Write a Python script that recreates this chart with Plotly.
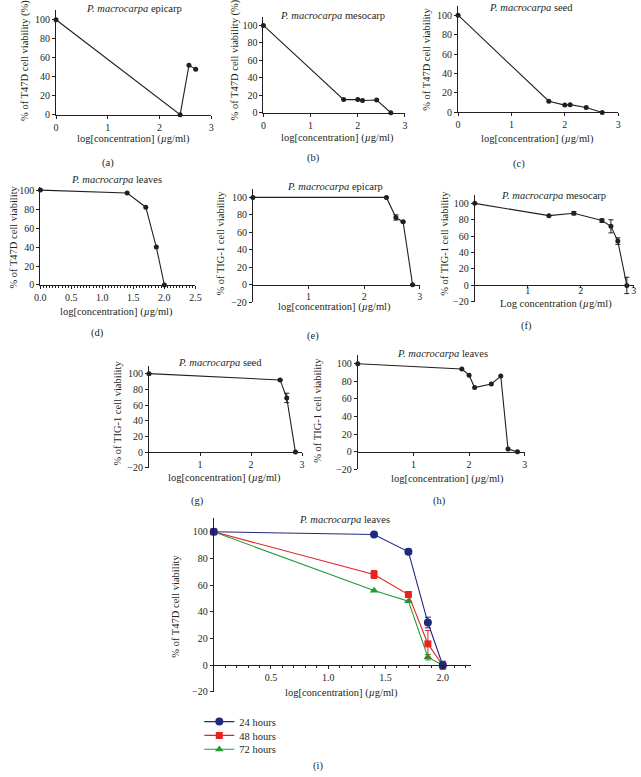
import plotly.graph_objects as go

W, H = 641, 777
FONT = "Liberation Serif"
INK = "#231f20"
NAVY = "#1f2a7c"
RED = "#e8221e"
GREEN = "#239b32"

# ---------------- data ----------------
a_x = [0, 2.4, 2.57, 2.7]
a_y = [100, 0, 52, 48]

b_x = [0, 1.7, 2.0, 2.1, 2.4, 2.7]
b_y = [100, 15, 15, 14, 14.5, 0]

c_x = [0, 1.7, 2.0, 2.1, 2.4, 2.7]
c_y = [100, 11.5, 7.5, 8, 5, 0]

d_x = [0, 1.4, 1.7, 1.87, 2.0]
d_y = [100, 97, 82, 40, 0]

e_x = [0, 2.4, 2.57, 2.7, 2.87]
e_y = [100, 100, 77, 72, 0]
e_err = [0, 0, 3, 0, 0]

f_x = [0, 1.4, 1.87, 2.4, 2.57, 2.7, 2.87]
f_y = [100, 85, 88, 79, 72, 54, 0]
f_err = [0, 0, 2, 2, 8, 4, 10]

g_x = [0, 2.57, 2.7, 2.87]
g_y = [100, 92, 69, 0]
g_err = [0, 0, 6, 0]

h_x = [0, 1.87, 2.0, 2.1, 2.4, 2.57, 2.7, 2.87]
h_y = [100, 94, 87, 73, 77, 86, 3, 0]

i_x = [0, 1.4, 1.7, 1.87, 2.0]
i_24 = [100, 98, 85, 32, 0]
i_24_err = [0, 0, 2, 4, 3]
i_48 = [100, 68, 53, 16, 0]
i_48_err = [0, 3, 0, 10, 0]
i_72 = [100, 56, 48, 6, 0]
i_72_err = [0, 0, 0, 2, 0]

T47D_PCT = "% of T47D cell viability (%)"
T47D = "% of T47D cell viability"
TIG = "% of TIG-1 cell viability"
XLAB = "log[concentration] (<i>µ</i>g/ml)"
XLAB_F = "Log concentration (<i>µ</i>g/ml)"

# ---------------- panel geometry (pixels) ----------------
panels = [
    dict(n=1, x0=51.0, xs=52.7, y0=113.0, ys=0.96, xr=[0, 3], yr=[0, 110],
         xt=[0, 1, 2, 3], fmt="", free=False, minor=None, so=0, tl=3,
         title="<i>P. macrocarpa</i> epicarp", tpos=(130, 6),
         ylab=T47D_PCT, ypos=(20, 58), xlab=XLAB, xpos=(130, 137.5), lab="(a)", lpos=(104, 162)),
    dict(n=2, x0=262.3, xs=48.1, y0=111.0, ys=0.883, xr=[0, 3], yr=[0, 110],
         xt=[0, 1, 2, 3], fmt="", free=False, minor=None, so=0, tl=3,
         title="<i>P. macrocarpa</i> mesocarp", tpos=(333, 12.5),
         ylab=T47D_PCT, ypos=(233.5, 58), xlab=XLAB, xpos=(338, 136.5), lab="(b)", lpos=(313, 157)),
    dict(n=3, x0=460.7, xs=54.4, y0=110.7, ys=0.984, xr=[0, 3], yr=[0, 109],
         xt=[0, 1, 2, 3], fmt="", free=False, minor=None, so=0, tl=3,
         title="<i>P. macrocarpa</i> seed", tpos=(535, 4.5),
         ylab=T47D, ypos=(428.5, 57), xlab=XLAB, xpos=(542, 137.5), lab="(c)", lpos=(523, 163)),
    dict(n=4, x0=35.0, xs=63.2, y0=285.3, ys=0.96, xr=[0, 2.5], yr=[0, 103],
         xt=[0, 0.5, 1.0, 1.5, 2.0, 2.5], fmt=".1f", free=False, minor=0.05, so=0, tl=3,
         title="<i>P. macrocarpa</i> leaves", tpos=(113, 179),
         ylab=T47D, ypos=(7.5, 237), xlab=XLAB, xpos=(113, 312.5), lab="(d)", lpos=(93, 334)),
    dict(n=5, x0=251.6, xs=56.7, y0=285.0, ys=0.883, xr=[0, 3], yr=[-20, 110],
         xt=[1, 2, 3], fmt="", free=True, minor=None, so=-1, tl=3,
         title="<i>P. macrocarpa</i> epicarp", tpos=(335, 186),
         ylab=TIG, ypos=(218.5, 243), xlab=XLAB, xpos=(335, 308), lab="(e)", lpos=(313, 336.5)),
    dict(n=6, x0=477.7, xs=54.0, y0=285.7, ys=0.83, xr=[0, 3], yr=[-20, 110],
         xt=[1, 2, 3], fmt="", free=True, minor=None, so=-6, tl=2,
         title="<i>P. macrocarpa</i> mesocarp", tpos=(558, 195),
         ylab=TIG, ypos=(447, 243), xlab=XLAB_F, xpos=(560, 304.5), lab="(f)", lpos=(530, 326.5)),
    dict(n=7, x0=145.7, xs=52.0, y0=454.3, ys=0.793, xr=[0, 3], yr=[-20, 110],
         xt=[1, 2, 3], fmt="", free=True, minor=None, so=0, tl=3,
         title="<i>P. macrocarpa</i> seed", tpos=(218, 364),
         ylab=TIG, ypos=(113.5, 415), xlab=XLAB, xpos=(223, 481), lab="(g)", lpos=(195, 504)),
    dict(n=8, x0=358.5, xs=56.7, y0=454.0, ys=0.89, xr=[0, 3], yr=[-20, 110],
         xt=[1, 2, 3], fmt="", free=True, minor=None, so=0, tl=3,
         title="<i>P. macrocarpa</i> leaves", tpos=(445, 355),
         ylab=TIG, ypos=(317.5, 412), xlab=XLAB, xpos=(450, 482), lab="(h)", lpos=(442, 504)),
    dict(n=9, x0=211.7, xs=116.7, y0=670.0, ys=1.35, xr=[0, 2.25], yr=[-20, 110],
         xt=[0.5, 1.0, 1.5, 2.0], fmt=".1f", free=True, minor=0.1, so=0, tl=3,
         title="<i>P. macrocarpa</i> leaves", tpos=(345, 523),
         ylab=T47D, ypos=(173, 610), xlab=XLAB, xpos=(342, 698), lab="(i)", lpos=(318, 772)),
]

fig = go.Figure()


def simple(n, xs, ys, err=None):
    tr = go.Scatter(x=xs, y=ys, mode="lines+markers", xaxis=f"x{n}", yaxis=f"y{n}",
                    line=dict(color=INK, width=1.1), marker=dict(color=INK, size=5),
                    showlegend=False, cliponaxis=False, hoverinfo="skip")
    if err is not None:
        tr.error_y = dict(type="data", array=err, color=INK, thickness=1, width=2.5)
    fig.add_trace(tr)


simple(1, a_x, a_y)
simple(2, b_x, b_y)
simple(3, c_x, c_y)
simple(4, d_x, d_y)
simple(5, e_x, e_y, e_err)
simple(6, f_x, f_y, f_err)
simple(7, g_x, g_y, g_err)
simple(8, h_x, h_y)

# drawn green -> red -> navy so navy sits on top; each in its own legend row
for name, vals, errs, col, sym, sz, leg in [
    ("72 hours", i_72, i_72_err, GREEN, "triangle-up", 7.5, "legend3"),
    ("48 hours", i_48, i_48_err, RED, "square", 7, "legend2"),
    ("24 hours", i_24, i_24_err, NAVY, "circle", 8, "legend"),
]:
    fig.add_trace(go.Scatter(
        x=i_x, y=vals, mode="lines+markers", name=name, xaxis="x9", yaxis="y9",
        line=dict(color=col, width=1.1), marker=dict(color=col, size=sz, symbol=sym),
        error_y=dict(type="data", array=errs, color=col, thickness=1, width=3),
        cliponaxis=False, hoverinfo="skip", legend=leg))


def legbox(ypix):
    return dict(x=197 / W, y=1 - ypix / H, xanchor="left", yanchor="middle",
                font=dict(size=10.5, family=FONT, color=INK),
                bgcolor="rgba(0,0,0,0)", itemwidth=30)


layout = dict(width=W, height=H, margin=dict(l=0, r=0, t=0, b=0),
              paper_bgcolor="white", plot_bgcolor="white",
              font=dict(family=FONT, size=10, color=INK),
              showlegend=True,
              legend=legbox(727), legend2=legbox(741), legend3=legbox(755))

annotations = []
for p in panels:
    n = p["n"]
    px_lo = p["x0"] + p["xr"][0] * p["xs"]
    px_hi = p["x0"] + p["xr"][1] * p["xs"]
    py_lo = p["y0"] - p["yr"][0] * p["ys"]
    py_hi = p["y0"] - p["yr"][1] * p["ys"]
    xa = dict(domain=[px_lo / W, min(px_hi / W, 1.0)], range=p["xr"], tickvals=p["xt"],
              showline=True, linecolor=INK, linewidth=1, ticks="outside", ticklen=p["tl"],
              tickcolor=INK, tickwidth=1, showgrid=False, zeroline=False,
              ticklabelstandoff=p["so"],
              tickfont=dict(family=FONT, size=10, color=INK), fixedrange=True)
    if p["fmt"]:
        xa["tickformat"] = p["fmt"]
    if p["minor"]:
        xa["minor"] = dict(dtick=p["minor"], ticks="outside", ticklen=2, tickcolor=INK, tickwidth=1,
                           tick0=0, showgrid=False)
    if p["free"]:
        xa["anchor"] = "free"
        xa["position"] = 1 - p["y0"] / H
    else:
        xa["anchor"] = f"y{n}"
    ya = dict(domain=[1 - py_lo / H, 1 - py_hi / H], range=p["yr"],
              tickvals=list(range(int(p["yr"][0]), 101, 20)),
              showline=True, linecolor=INK, linewidth=1, ticks="outside", ticklen=3,
              tickcolor=INK, tickwidth=1, showgrid=False, zeroline=False, anchor=f"x{n}",
              tickfont=dict(family=FONT, size=10, color=INK), fixedrange=True)
    layout[f"xaxis{n}"] = xa
    layout[f"yaxis{n}"] = ya

    def ann(text, pos, size=10.5, angle=0):
        annotations.append(dict(text=text, x=pos[0] / W, y=1 - pos[1] / H, xref="paper", yref="paper",
                                xanchor="center", yanchor="middle", showarrow=False, textangle=angle,
                                font=dict(family=FONT, size=size, color=INK)))

    ann(p["title"], p["tpos"])
    ann(p["ylab"], p["ypos"], angle=-90)
    ann(p["xlab"], p["xpos"])
    ann(p["lab"], p["lpos"])

layout["annotations"] = annotations
fig.update_layout(**layout)
fig.write_html("out.html", config={"displayModeBar": False},
               post_script="document.body.style.margin='0';document.body.style.overflow='hidden';")
